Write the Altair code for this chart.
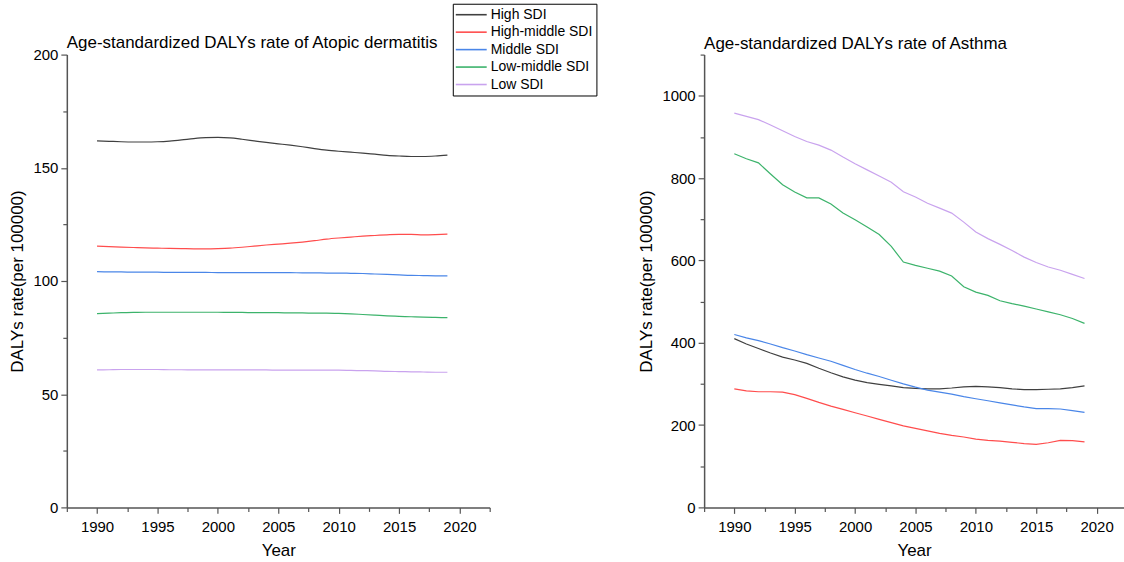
import altair as alt
import pandas as pd

years = list(range(1990, 2020))
groups = ["High SDI", "High-middle SDI", "Middle SDI", "Low-middle SDI", "Low SDI"]
colors = ["#404040", "#ff4d4d", "#4a86e8", "#3cb36b", "#c9a3ee"]

# Atopic dermatitis, age-standardized DALYs rate (per 100000)
ad_high = [161.9, 161.7, 161.5, 161.4, 161.4, 161.5, 161.8, 162.3, 162.9, 163.3,
           163.4, 163.2, 162.6, 161.9, 161.2, 160.6, 160.0, 159.3, 158.5, 157.8,
           157.3, 156.9, 156.5, 156.0, 155.5, 155.2, 155.0, 155.0, 155.2, 155.6]
ad_highmid = [115.4, 115.2, 115.0, 114.8, 114.6, 114.5, 114.4, 114.3, 114.2, 114.2,
              114.3, 114.5, 114.9, 115.4, 115.9, 116.3, 116.7, 117.2, 117.8, 118.5,
              119.0, 119.4, 119.8, 120.1, 120.4, 120.6, 120.6, 120.4, 120.5, 120.7]
ad_mid = [104.1, 104.0, 104.0, 103.9, 103.9, 103.9, 103.8, 103.8, 103.8, 103.8,
          103.7, 103.7, 103.7, 103.7, 103.7, 103.7, 103.7, 103.6, 103.6, 103.5,
          103.5, 103.4, 103.3, 103.1, 102.9, 102.7, 102.5, 102.4, 102.3, 102.3]
ad_lowmid = [85.6, 85.8, 86.0, 86.1, 86.2, 86.2, 86.2, 86.2, 86.2, 86.2,
             86.2, 86.1, 86.1, 86.0, 86.0, 86.0, 85.9, 85.9, 85.8, 85.8,
             85.7, 85.5, 85.2, 84.9, 84.6, 84.4, 84.2, 84.0, 83.9, 83.8]
ad_low = [60.7, 60.8, 60.9, 60.9, 60.9, 60.9, 60.8, 60.8, 60.7, 60.7,
          60.7, 60.7, 60.7, 60.7, 60.7, 60.6, 60.6, 60.6, 60.6, 60.6,
          60.6, 60.5, 60.4, 60.3, 60.1, 60.0, 59.9, 59.8, 59.7, 59.7]

# Asthma, age-standardized DALYs rate (per 100000)
as_high = [410, 397, 386, 375, 365, 358, 350, 338, 327, 317,
           309, 303, 299, 295, 291, 289, 288, 288, 290, 293,
           294, 293, 291, 288, 286, 286, 287, 288, 291, 295]
as_highmid = [288, 283, 281, 281, 280, 274, 265, 255, 246, 238,
              230, 222, 214, 206, 198, 192, 186, 180, 175, 171,
              166, 163, 161, 158, 155, 153, 157, 163, 162, 159]
as_mid = [420, 412, 405, 397, 388, 380, 371, 363, 355, 345,
          335, 326, 318, 309, 300, 292, 285, 280, 275, 269,
          264, 259, 254, 249, 244, 240, 240, 239, 235, 231]
as_lowmid = [859, 847, 837, 810, 784, 766, 752, 752, 737, 715,
             699, 681, 663, 634, 596, 588, 581, 574, 562, 536,
             523, 515, 502, 495, 489, 482, 475, 468, 459, 447]
as_low = [958, 950, 942, 929, 915, 901, 889, 880, 868, 851,
          835, 820, 805, 790, 767, 754, 739, 727, 715, 693,
          669, 653, 639, 624, 608, 595, 584, 576, 566, 556]

x_ticks = [1987.5 + 2.5 * i for i in range(15)]
y_ticks_ad = [25 * i for i in range(9)]
y_ticks_as = [100 * i for i in range(12)]

FONT = "Liberation Sans"
AXIS_COLOR = "#555555"


def make_df(series):
    rows = []
    for g, vals in zip(groups, series):
        for yr, v in zip(years, vals):
            rows.append({"Year": yr, "SDI": g, "Rate": v})
    return pd.DataFrame(rows)


def common_axis(**kw):
    return alt.Axis(
        grid=False,
        labelFontSize=15,
        titleFontSize=17,
        titleFontWeight="normal",
        domainColor=AXIS_COLOR,
        domainWidth=1.5,
        tickColor=AXIS_COLOR,
        tickWidth=1.2,
        labelColor="black",
        titleColor="black",
        labelFont=FONT,
        titleFont=FONT,
        **kw,
    )


def x_axis():
    return common_axis(
        values=x_ticks,
        labelExpr="datum.value % 5 == 0 ? datum.value : ''",
        tickSize={"condition": {"test": "datum.value % 5 == 0", "value": 6}, "value": 4},
        title="Year",
        labelPadding=6,
        titlePadding=8,
    )


def y_axis(values, major):
    return common_axis(
        values=values,
        labelExpr=f"datum.value % {major} == 0 ? datum.value : ''",
        tickSize={"condition": {"test": f"datum.value % {major} == 0", "value": 6}, "value": 4},
        title="DALYs rate(per 100000)",
        labelPadding=3,
        titlePadding=6,
    )


color_enc = alt.Color(
    "SDI:N",
    scale=alt.Scale(domain=groups, range=colors),
    legend=alt.Legend(
        title=None,
        orient="none",
        legendX=387,
        legendY=-51,
        symbolType="M-1.6,0H4.6",
        symbolSize=100,
        symbolStrokeWidth=1.6,
        labelFontSize=14,
        labelFont=FONT,
        labelColor="black",
        strokeColor="black",
        fillColor="white",
        padding=4,
        rowPadding=3.5,
        labelOffset=20,
    ),
)

left = alt.Chart(make_df([ad_high, ad_highmid, ad_mid, ad_lowmid, ad_low])).mark_line(
    strokeWidth=1.2, interpolate="monotone"
).encode(
    x=alt.X("Year:Q", scale=alt.Scale(domain=[1987.5, 2022.5], nice=False), axis=x_axis()),
    y=alt.Y("Rate:Q", scale=alt.Scale(domain=[0, 200], nice=False), axis=y_axis(y_ticks_ad, 50)),
    color=color_enc,
).properties(
    width=424,
    height=454,
    title=alt.TitleParams(
        "Age-standardized DALYs rate of Atopic dermatitis",
        anchor="start", frame="group", fontSize=17, font=FONT,
        fontWeight="normal", color="black", offset=-4,
    ),
)

right = alt.Chart(make_df([as_high, as_highmid, as_mid, as_lowmid, as_low])).mark_line(
    strokeWidth=1.2
).encode(
    x=alt.X("Year:Q", scale=alt.Scale(domain=[1987.5, 2022.27], nice=False), axis=x_axis()),
    y=alt.Y("Rate:Q", scale=alt.Scale(domain=[0, 1100], nice=False), axis=y_axis(y_ticks_as, 200)),
    color=color_enc,
).properties(
    width=421,
    height=454,
    title=alt.TitleParams(
        "Age-standardized DALYs rate of Asthma",
        anchor="start", frame="group", fontSize=17, font=FONT,
        fontWeight="normal", color="black", offset=1,
    ),
)

chart = alt.hconcat(left, right, spacing=147).properties(
    padding={"left": 8, "top": 2, "right": 0, "bottom": 0},
    background="white",
).configure_view(stroke=None)

chart.save("out.html", embed_options={"renderer": "svg", "actions": False})
